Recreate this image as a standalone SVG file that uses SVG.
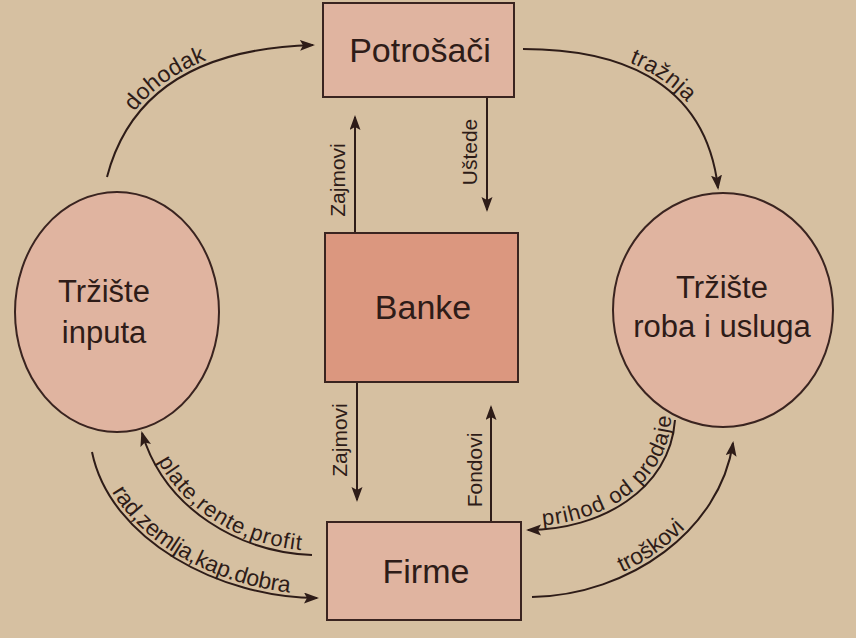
<svg xmlns="http://www.w3.org/2000/svg" xmlns:xlink="http://www.w3.org/1999/xlink" width="856" height="638" viewBox="0 0 856 638">
<style>
.node{fill:#e0b4a0;stroke:#3a2420;stroke-width:2}
.bank{fill:#db977f;stroke:#3a2420;stroke-width:2}
.big{font-family:"Liberation Sans",Arial,sans-serif;font-size:34px;fill:#2e1c18;text-anchor:middle}
.mid{font-family:"Liberation Sans",Arial,sans-serif;font-size:31px;fill:#2e1c18;text-anchor:middle}
.lbl{font-family:"Liberation Sans",Arial,sans-serif;font-size:23px;fill:#2e1c18;text-anchor:middle}
.in{font-size:22px;letter-spacing:1.2px}
.vl{font-family:"Liberation Sans",Arial,sans-serif;font-size:21px;fill:#2e1c18;text-anchor:middle}
.c{fill:none;stroke:#2e1c18;stroke-width:2;marker-end:url(#ah)}
</style>
<defs>
<marker id="ah" markerUnits="userSpaceOnUse" markerWidth="16" markerHeight="12" refX="13" refY="5.5" orient="auto">
<path d="M0,0 L15,5.5 L0,11 L3,5.5 z" fill="#2e1c18"/>
</marker>
<path id="p-doh" d="M107,177 Q140,50 313,45"/>
<path id="p-tra" d="M523,49 C610,49 705,75 718,188"/>
<path id="p-pla" d="M142,433 C165,510 240,552 312,555"/>
<path id="p-rad" d="M92,452 C110,540 220,598 317,598"/>
<path id="p-pri" d="M528,530 C600,530 670,490 675,420"/>
<path id="p-tro" d="M532,597 C630,595 720,530 733,443"/>
</defs>
<rect width="856" height="638" fill="#d6c0a1"/>
<g id="connectors">
<path class="c" d="M107,177 Q140,50 313,45"/>
<path class="c" d="M523,49 C610,49 705,75 718,188"/>
<path class="c" d="M312,555 C240,552 165,510 142,433"/>
<path class="c" d="M92,452 C110,540 220,598 317,598"/>
<path class="c" d="M675,420 C670,490 600,530 528,530"/>
<path class="c" d="M532,597 C630,595 720,530 733,443"/>
<path class="c" d="M355,233 L355,117"/>
<path class="c" d="M487,97 L487,210"/>
<path class="c" d="M357,382 L357,500"/>
<path class="c" d="M491,522 L491,407"/>
<text class="lbl" dy="-4"><textPath xlink:href="#p-doh" href="#p-doh" startOffset="43%">dohodak</textPath></text>
<text class="lbl" dy="-4"><textPath xlink:href="#p-tra" href="#p-tra" startOffset="53%">tražnja</textPath></text>
<text class="lbl in" dy="-4"><textPath xlink:href="#p-pla" href="#p-pla" startOffset="55%">plate,rente,profit</textPath></text>
<text class="lbl" dy="-4"><textPath xlink:href="#p-rad" href="#p-rad" startOffset="53%">rad,zemlja,kap.dobra</textPath></text>
<text class="lbl in" dy="-4"><textPath xlink:href="#p-pri" href="#p-pri" startOffset="55%">prihod od prodaje</textPath></text>
<text class="lbl" dy="-4"><textPath xlink:href="#p-tro" href="#p-tro" startOffset="49%">troškovi</textPath></text>
<text class="vl" transform="translate(345,180) rotate(-90)">Zajmovi</text>
<text class="vl" transform="translate(477,152) rotate(-90)">Uštede</text>
<text class="vl" transform="translate(347,440) rotate(-90)">Zajmovi</text>
<text class="vl" transform="translate(482,470) rotate(-90)">Fondovi</text>
</g>
<g id="potrosaci">
<rect class="node" x="323" y="3" width="191" height="94"/>
<text class="big" x="420" y="62">Potrošači</text>
</g>
<g id="banke">
<rect class="bank" x="325" y="233" width="193" height="149"/>
<text class="big" x="423" y="319">Banke</text>
</g>
<g id="firme">
<rect class="node" x="327" y="522" width="194" height="98"/>
<text class="big" x="426" y="583">Firme</text>
</g>
<g id="trziste-inputa">
<ellipse class="node" cx="117" cy="312" rx="102" ry="120"/>
<text class="mid" x="104" y="302">Tržište</text>
<text class="mid" x="104" y="343">inputa</text>
</g>
<g id="trziste-roba">
<ellipse class="node" cx="723" cy="310" rx="110" ry="117"/>
<text class="mid" x="722" y="298">Tržište</text>
<text class="mid" x="722" y="337">roba i usluga</text>
</g>
</svg>
